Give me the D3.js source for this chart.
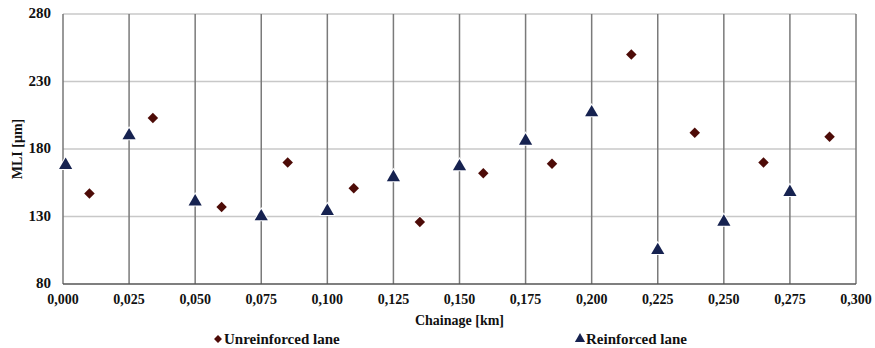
<!DOCTYPE html>
<html>
<head>
<meta charset="utf-8">
<script src="https://cdn.jsdelivr.net/npm/d3@7"></script>
<style>
  body { margin: 0; background: #fff; }
  text { font-family: "Liberation Serif", "Times New Roman", serif; font-weight: bold; fill: #111; }
</style>
</head>
<body>
<svg id="chart" width="875" height="348"></svg>
<script>
// chainage [km] and MLI [µm]
var unreinforcedX = [0.010, 0.034, 0.060, 0.085, 0.110, 0.135, 0.159, 0.185, 0.215, 0.239, 0.265, 0.290];
var unreinforcedY = [147, 203, 137, 170, 151, 126, 162, 169, 250, 192, 170, 189];
var reinforcedX = [0.001, 0.025, 0.050, 0.075, 0.100, 0.125, 0.150, 0.175, 0.200, 0.225, 0.250, 0.275];
var reinforcedY = [168, 190, 141, 130, 134, 159, 167, 186, 207, 105, 126, 148];
var xTicks = [0, 0.025, 0.05, 0.075, 0.1, 0.125, 0.15, 0.175, 0.2, 0.225, 0.25, 0.275, 0.3];
var yTicks = [80, 130, 180, 230, 280];

var svg = d3.select('#chart');
var plotLeft = 63, plotRight = 856, plotTop = 14, plotBottom = 284;

var x = d3.scaleLinear().domain([0, 0.3]).range([plotLeft, plotRight]);
var y = d3.scaleLinear().domain([80, 280]).range([plotBottom, plotTop]);

// horizontal grid
svg.append('g')
    .selectAll('line')
    .data(yTicks.slice(1))
    .enter()
    .append('line')
    .attr('x1', plotLeft).attr('x2', plotRight)
    .attr('y1', d => y(d)).attr('y2', d => y(d))
    .style('stroke', '#c8c8c8')
    .style('stroke-width', 1.5);

// vertical grid (darker)
svg.append('g')
    .selectAll('line')
    .data(xTicks.slice(1))
    .enter()
    .append('line')
    .attr('x1', d => x(d)).attr('x2', d => x(d))
    .attr('y1', plotTop).attr('y2', plotBottom)
    .style('stroke', '#7a7a7a')
    .style('stroke-width', 1.5);

// axis lines
svg.append('line')
    .attr('x1', plotLeft).attr('x2', plotLeft).attr('y1', plotTop).attr('y2', plotBottom)
    .style('stroke', '#777').style('stroke-width', 1.5);
svg.append('line')
    .attr('x1', plotLeft).attr('x2', plotRight).attr('y1', plotBottom).attr('y2', plotBottom)
    .style('stroke', '#555').style('stroke-width', 1.5);

// tick labels
svg.append('g')
    .selectAll('text')
    .data(yTicks)
    .enter()
    .append('text')
    .attr('x', 51)
    .attr('y', d => y(d) + 4)
    .attr('text-anchor', 'end')
    .style('font-size', '15px')
    .text(d => d);

var fmt = d3.format('.3f');
svg.append('g')
    .selectAll('text')
    .data(xTicks)
    .enter()
    .append('text')
    .attr('x', d => x(d))
    .attr('y', 304)
    .attr('text-anchor', 'middle')
    .style('font-size', '14px')
    .text(d => fmt(d).replace('.', ','));

svg.append('text')
    .attr('x', x(0.15))
    .attr('y', 325)
    .attr('text-anchor', 'middle')
    .style('font-size', '14px')
    .text('Chainage [km]');

svg.append('text')
    .attr('transform', 'translate(22,' + y(180) + ') rotate(-90)')
    .attr('text-anchor', 'middle')
    .style('font-size', '14px')
    .text('MLI [µm]');

// markers
var diamond = d3.symbol().type(d3.symbolDiamond2).size(70);
var triangle = d3.symbol().type(d3.symbolTriangle).size(75);

var unrein = unreinforcedX.map((d, i) => [d, unreinforcedY[i]]);
var rein = reinforcedX.map((d, i) => [d, reinforcedY[i]]);

svg.append('g')
    .selectAll('path')
    .data(unrein)
    .enter()
    .append('path')
    .attr('d', diamond)
    .attr('transform', d => 'translate(' + x(d[0]) + ',' + y(d[1]) + ')')
    .style('fill', '#4d0b07')
    .style('stroke', '#fff')
    .style('stroke-width', 1.5)
    .style('paint-order', 'stroke');

svg.append('g')
    .selectAll('path')
    .data(rein)
    .enter()
    .append('path')
    .attr('d', triangle)
    .attr('transform', d => 'translate(' + x(d[0]) + ',' + y(d[1]) + ')')
    .style('fill', '#162250')
    .style('stroke', '#fff')
    .style('stroke-width', 2)
    .style('paint-order', 'stroke');

// legend
var legend = [
    { label: 'Unreinforced lane', type: d3.symbolDiamond2, size: 40, color: '#4d0b07', x: 218 },
    { label: 'Reinforced lane', type: d3.symbolTriangle, size: 45, color: '#162250', x: 580 }
];
var lg = svg.append('g')
    .selectAll('g')
    .data(legend)
    .enter()
    .append('g')
    .attr('transform', d => 'translate(' + d.x + ',339)');
lg.append('path')
    .attr('d', d => d3.symbol().type(d.type).size(d.size)())
    .style('fill', d => d.color);
lg.append('text')
    .attr('x', 6)
    .attr('y', 5)
    .style('font-size', '15px')
    .text(d => d.label);
</script>
</body>
</html>
